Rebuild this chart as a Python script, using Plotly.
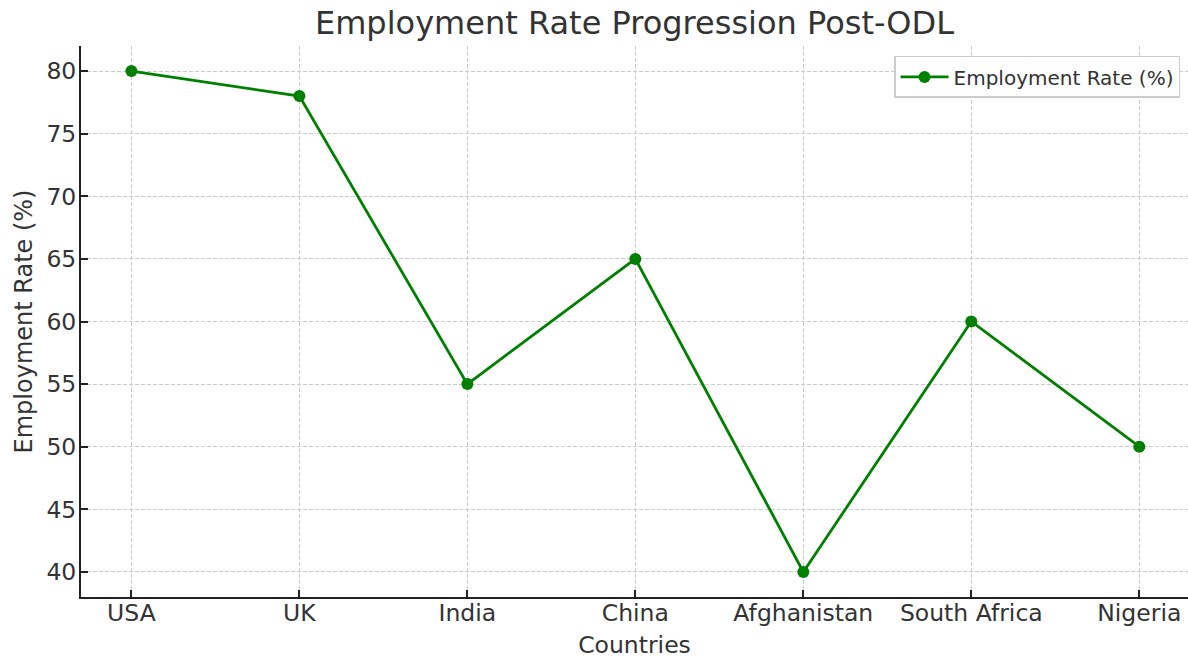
import plotly.graph_objects as go

countries = ["USA", "UK", "India", "China", "Afghanistan", "South Africa", "Nigeria"]
employment_rate = [80, 78, 55, 65, 40, 60, 50]
y_ticks = [40, 45, 50, 55, 60, 65, 70, 75, 80]

font_family = "DejaVu Sans"
text_color = "#333333"

fig = go.Figure()
fig.add_trace(go.Scatter(
    x=countries, y=employment_rate, mode="lines+markers",
    name="Employment Rate (%)",
    line=dict(color="#008000", width=2.8),
    marker=dict(color="#008000", size=12),
))

fig.update_layout(
    width=1188, height=659,
    margin=dict(l=81, r=0, t=46, b=62, autoexpand=False),
    paper_bgcolor="white", plot_bgcolor="white",
    font=dict(family=font_family, color=text_color, size=23),
    title=dict(text="Employment Rate Progression Post-ODL", x=(81 + 1188) / 2 / 1188,
               xanchor="center", y=1 - 23 / 659, yanchor="middle",
               font=dict(size=32, color=text_color)),
    showlegend=True,
    legend=dict(x=0.9928, xanchor="right", y=0.982, yanchor="top",
                bgcolor="white", bordercolor="#cccccc", borderwidth=1.5,
                itemwidth=48,
                font=dict(size=20, color=text_color)),
)
fig.update_xaxes(
    type="category", range=[-0.3, 6.29], automargin=False,
    showline=True, linecolor="#222222", linewidth=2, mirror=False,
    ticks="inside", ticklen=7, tickwidth=1.5, tickcolor="#222222",
    showgrid=True, gridcolor="#cccccc", gridwidth=1, griddash="4px,2px",
    zeroline=False, tickfont=dict(size=23.5), ticklabelstandoff=-6,
    title=dict(text="Countries", font=dict(size=23.5), standoff=12),
)
fig.update_yaxes(
    range=[38, 82], tickvals=y_ticks, automargin=False,
    showline=True, linecolor="#222222", linewidth=2, mirror=False,
    ticks="inside", ticklen=7, tickwidth=1.5, tickcolor="#222222",
    showgrid=True, gridcolor="#cccccc", gridwidth=1, griddash="4px,2px",
    zeroline=False, tickfont=dict(size=23.5), ticklabelstandoff=-2,
    title=dict(text="Employment Rate (%)", font=dict(size=24), standoff=7),
)

fig.write_html("out.html")
